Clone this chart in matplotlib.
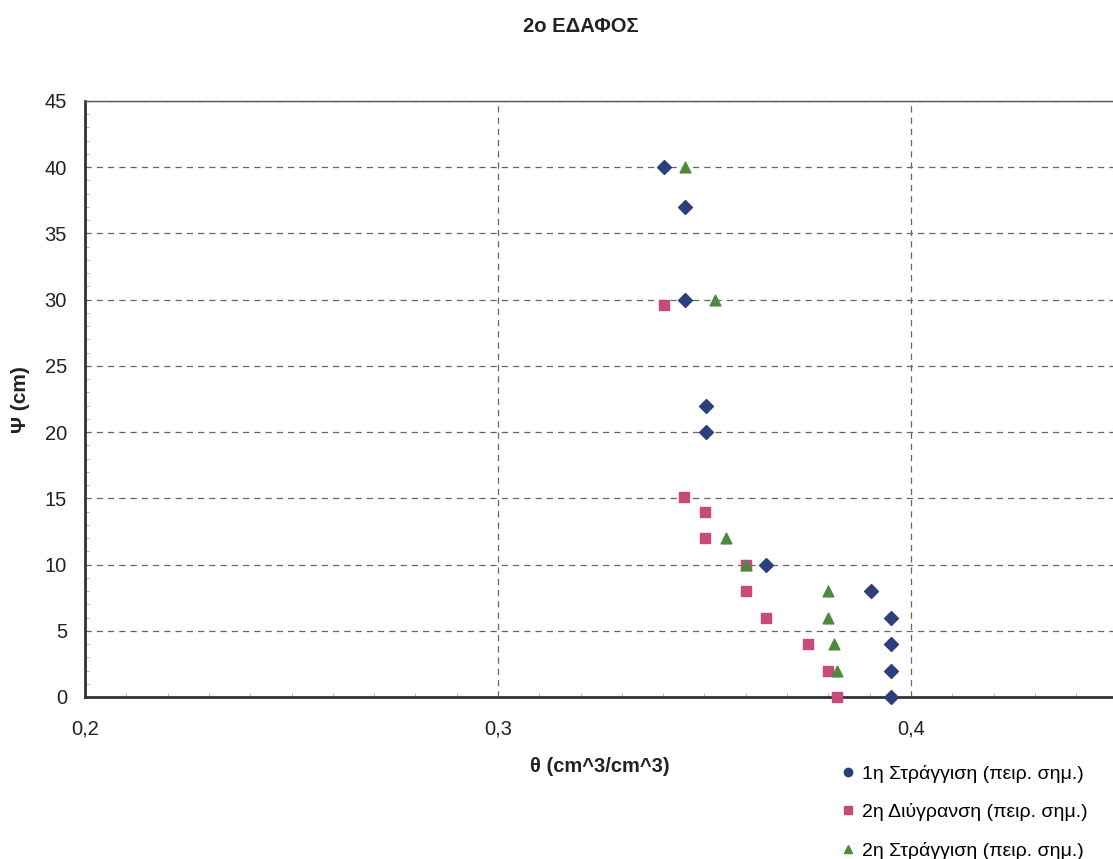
import matplotlib.pyplot as plt
from matplotlib.ticker import MultipleLocator, FuncFormatter
from matplotlib.lines import Line2D

plt.rcParams["font.family"] = ["Liberation Sans", "DejaVu Sans"]

# 1η Στράγγιση
theta1 = [0.3402, 0.3453, 0.3453, 0.3504, 0.3504, 0.3649, 0.3903, 0.3952, 0.3952, 0.3952, 0.3952]
psi1 = [40, 37, 30, 22, 20, 10, 8, 6, 4, 2, 0]

# 2η Διύγρανση
theta2 = [0.3402, 0.3450, 0.3501, 0.3501, 0.3600, 0.3600, 0.3649, 0.3751, 0.3799, 0.3820]
psi2 = [29.6, 15.1, 14, 12, 10, 8, 6, 4, 2, 0]

# 2η Στράγγιση
theta3 = [0.3453, 0.3525, 0.3552, 0.3600, 0.3800, 0.3800, 0.3814, 0.3820]
psi3 = [40, 30, 12, 10, 8, 6, 4, 2]

labels = ["1η Στράγγιση (πειρ. σημ.)", "2η Διύγρανση (πειρ. σημ.)", "2η Στράγγιση (πειρ. σημ.)"]
colors = ["#2b3f7c", "#c84a7c", "#4c8a3c"]

fig = plt.figure(figsize=(11.13, 8.59), dpi=100)
ax = fig.add_axes([85 / 1113, 1 - 697 / 859, 1 - 85 / 1113, (697 - 101) / 859])

ax.scatter(theta1, psi1, marker="D", s=50, color=colors[0], zorder=3, clip_on=False)
ax.scatter(theta2, psi2, marker="s", s=50, color=colors[1], zorder=3, clip_on=False)
ax.scatter(theta3, psi3, marker="^", s=60, color=colors[2], zorder=3, clip_on=False)

ax.set_xlim(0.2, 0.2 + (1113 - 85) / 4130)
ax.set_ylim(0, 45)
ax.xaxis.set_major_locator(MultipleLocator(0.1))
ax.xaxis.set_minor_locator(MultipleLocator(0.01))
ax.yaxis.set_major_locator(MultipleLocator(5))
ax.yaxis.set_minor_locator(MultipleLocator(1))
ax.xaxis.set_major_formatter(FuncFormatter(lambda v, p: f"{v:.1f}".replace(".", ",")))
ax.tick_params(axis="both", which="major", labelsize=14.5, length=0, pad=13, colors="#222222")
ax.tick_params(axis="x", which="major", pad=16)
ax.tick_params(axis="both", which="minor", direction="in", length=3, color="#aaaaaa")

ax.grid(True, which="major", linestyle=(0, (5, 4)), color="#666666", linewidth=0.9)
ax.spines["left"].set_linewidth(2)
ax.spines["bottom"].set_linewidth(2)
ax.spines["left"].set_color("#333333")
ax.spines["bottom"].set_color("#333333")
ax.spines["top"].set_color("#555555")
ax.spines["top"].set_linewidth(1)
ax.spines["right"].set_visible(False)

fig.text(581 / 1113, 1 - 26 / 859, "2ο ΕΔΑΦΟΣ", ha="center", va="center",
         fontsize=14.5, fontweight="bold", color="#222222")
fig.text(600 / 1113, 1 - 766 / 859, "θ (cm^3/cm^3)", ha="center", va="center",
         fontsize=14.5, fontweight="bold", color="#222222")
fig.text(20 / 1113, 1 - 400 / 859, "Ψ (cm)", ha="center", va="center", rotation=90,
         fontsize=15, fontweight="bold", color="#222222")

handles = [
    Line2D([], [], marker="o", linestyle="none", color=colors[0], markersize=6),
    Line2D([], [], marker="s", linestyle="none", color=colors[1], markersize=6),
    Line2D([], [], marker="^", linestyle="none", color=colors[2], markersize=6),
]
fig.legend(handles, labels, loc="upper left", bbox_to_anchor=(827 / 1113, 1 - 755 / 859),
           frameon=False, fontsize=14, handletextpad=0.1, labelspacing=1.05,
           handlelength=1.2, borderpad=0)

fig.savefig("out.png", dpi=100)
